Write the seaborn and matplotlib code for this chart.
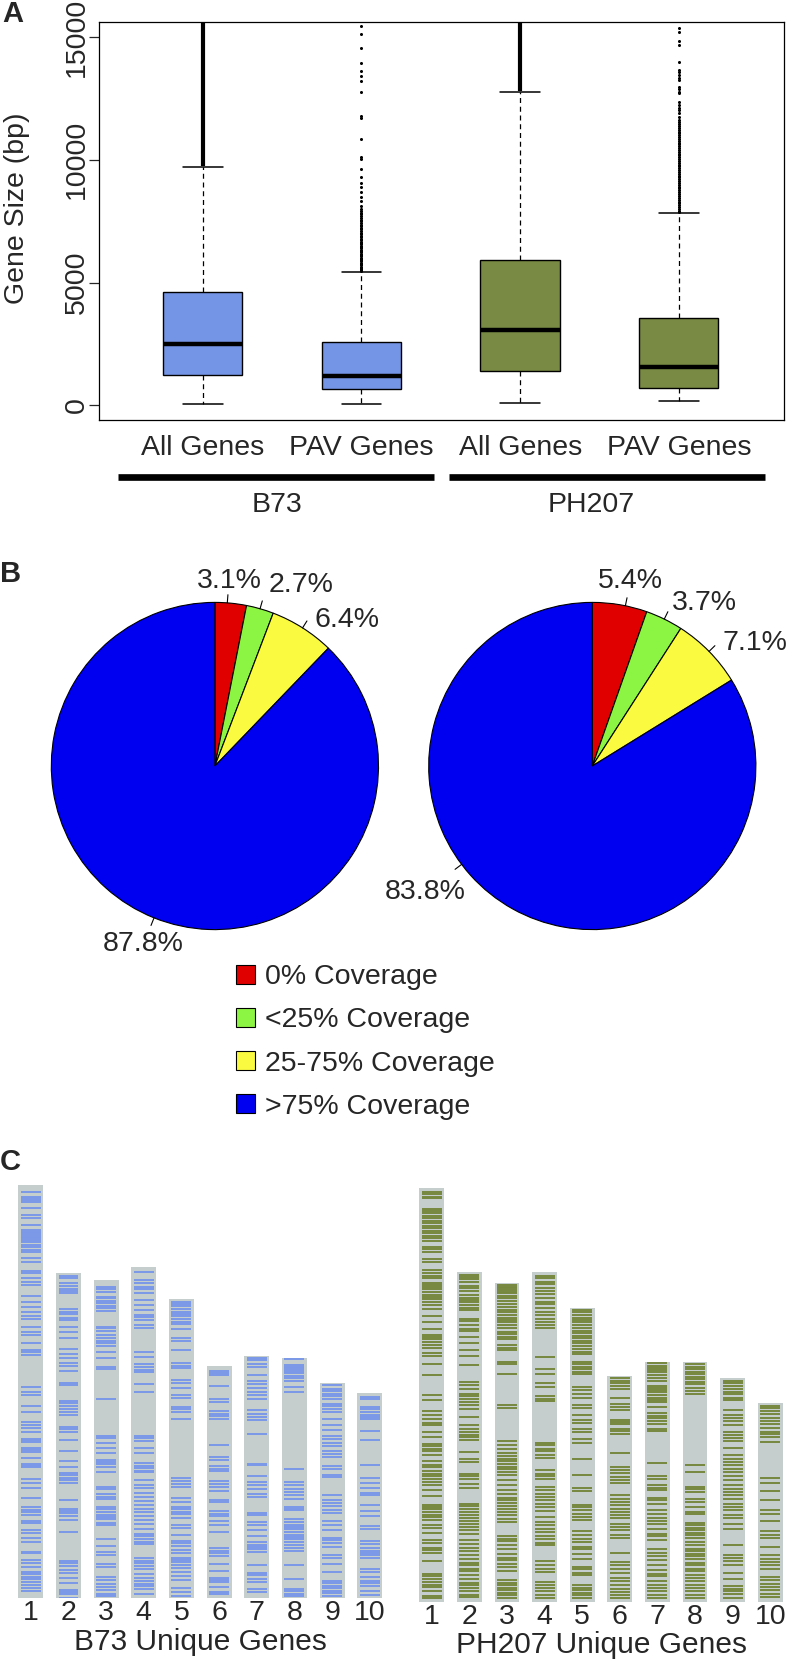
import numpy as np
import pandas as pd
import seaborn as sns
import matplotlib.pyplot as plt
from matplotlib.patches import Patch

# ---------------- data ----------------
# Panel A: gene size box statistics (bp)
box_groups = ["All Genes", "PAV Genes", "All Genes", "PAV Genes"]
box_med = [2510, 1190, 3050, 1560]
box_q1 = [1220, 650, 1380, 720]
box_q3 = [4610, 2570, 5935, 3565]
box_lo = [70, 70, 95, 165]
box_hi = [9715, 5420, 12780, 7845]
box_colors = ["#7494E6", "#7494E6", "#788A43", "#788A43"]

# outliers so dense they merge into a solid line (start, end)
dense_outliers = [(9760, 40000), None, (12820, 40000), None]

b73_pav_outliers = [15447, 15108, 14566, 13957, 13618, 13415, 13211, 12778, 11789, 11694,
                    10840, 10095, 10027, 9621, 9282, 9038, 8875, 8672, 8469, 8333, 8130,
                    7995, 7930, 7850, 7790, 7705, 7640, 7560, 7490, 7425, 7350, 7300, 7220,
                    7160, 7090, 7030, 6960, 6905, 6850, 6790, 6720, 6670, 6610, 6555, 6500,
                    6440, 6390, 6330, 6280, 6230, 6170, 6120, 6070, 6010, 5960, 5910, 5860,
                    5800, 5750, 5700, 5650, 5600, 5550, 5500, 5460]
ph207_pav_outliers = [15379, 15190, 14837, 14675, 13970, 13659, 13564, 13455, 13347, 13252,
                      12981, 12886, 12778, 12710, 12371, 12236, 12127, 12033, 11897, 11762,
                      11626, 11540, 11470, 11390, 11300, 11230, 11150, 11080, 11000, 10930,
                      10850, 10780, 10700, 10630, 10550, 10480, 10400, 10330, 10250, 10180,
                      10100, 10030, 9950, 9880, 9800, 9730, 9650, 9580, 9500, 9430, 9350,
                      9280, 9200, 9130, 9050, 8980, 8900, 8830, 8750, 8680, 8600, 8530,
                      8450, 8380, 8300, 8230, 8150, 8080, 8000, 7930, 7880]
outliers = [[], b73_pav_outliers, [], ph207_pav_outliers]

genotypes = ["B73", "PH207"]

# Panel B: coverage of unique genes (%)
coverage_labels = ["0% Coverage", "<25% Coverage", "25-75% Coverage", ">75% Coverage"]
coverage_colors = ["#E00000", "#8CF442", "#FAFA40", "#0000F0"]
b73_coverage = [3.1, 2.7, 6.4, 87.8]
ph207_coverage = [5.4, 3.7, 7.1, 83.8]

# Panel C: chromosome lengths (Mb) and unique gene positions (Mb from chromosome start)
chrom_names = ["1", "2", "3", "4", "5", "6", "7", "8", "9", "10"]
b73_len = [301.4, 237.1, 232.1, 241.5, 217.9, 169.4, 176.8, 175.4, 157.0, 149.6]
ph207_len = [301.4, 240.1, 232.1, 240.6, 213.9, 164.3, 175.0, 174.5, 162.8, 144.6]

b73_genes = [
    [5.3, 8.5, 9.7, 10.9, 12.6, 17.0, 21.9, 23.8, 29.2, 32.8, 34.0, 35.3, 36.5, 37.7, 38.9,
     40.1, 41.8, 43.8, 45.0, 47.4, 48.6, 53.5, 55.9, 62.7, 64.4, 67.6, 70.5, 72.9, 81.0,
     85.1, 88.7, 92.4, 95.3, 97.7, 103.3, 107.5, 109.4, 115.5, 120.4, 122.1, 124.0, 147.1,
     150.7, 153.2, 160.9, 165.3, 173.1, 175.1, 177.5, 179.9, 185.5, 186.3, 187.2, 191.6,
     193.3, 195.0, 199.4, 203.2, 203.9, 204.7, 205.4, 214.4, 217.6, 220.8, 228.1, 234.6,
     237.1, 238.8, 240.7, 245.1, 246.8, 251.6, 254.1, 257.2, 260.6, 267.4, 268.7, 273.5,
     276.0, 278.4, 282.0, 284.0, 285.7, 287.4, 289.3, 291.8, 294.2, 296.2],
    [1.9, 3.2, 7.3, 9.2, 11.2, 12.9, 14.8, 26.3, 28.0, 29.9, 32.4, 34.1, 38.9, 42.8, 47.0,
     55.5, 59.1, 61.6, 65.2, 67.6, 71.3, 79.8, 81.8, 93.2, 94.9, 96.8, 98.8, 101.0, 103.4,
     111.9, 113.9, 115.8, 121.7, 129.7, 137.0, 141.4, 146.0, 147.4, 149.1, 150.9, 152.8,
     165.7, 171.8, 173.5, 175.2, 177.1, 180.0, 188.8, 210.0, 211.7, 213.6, 216.1, 219.0,
     222.1, 225.8, 230.7, 232.6, 234.3, 236.8],
    [4.9, 6.6, 8.5, 12.2, 13.4, 15.3, 17.0, 18.7, 20.7, 22.6, 34.1, 35.3, 37.2, 40.1, 42.6,
     44.5, 46.2, 47.9, 52.3, 56.7, 63.3, 65.0, 86.4, 113.6, 115.1, 118.5, 122.4, 125.8,
     131.4, 132.6, 134.5, 136.3, 139.9, 150.9, 152.6, 155.7, 158.2, 159.9, 165.5, 167.2,
     169.1, 171.0, 172.7, 174.5, 176.9, 178.8, 189.1, 193.9, 198.3, 200.2, 206.8, 209.2,
     216.5, 219.0, 221.4, 223.8, 226.3, 228.7, 230.4],
    [3.2, 9.7, 11.4, 14.6, 16.3, 18.7, 24.3, 27.5, 31.6, 34.8, 36.5, 38.9, 42.1, 44.5, 62.0,
     65.7, 70.6, 73.0, 74.7, 76.6, 85.2, 90.8, 123.4, 124.8, 126.5, 132.1, 135.5, 142.8,
     144.8, 146.7, 148.4, 149.6, 155.0, 158.9, 161.3, 164.7, 167.9, 170.3, 173.5, 176.4,
     178.8, 181.3, 184.2, 187.3, 191.0, 194.6, 196.4, 198.3, 200.2, 202.0, 212.4, 214.1,
     215.8, 217.8, 220.2, 223.8, 227.0, 228.7, 231.1, 232.8, 234.8, 238.4],
    [1.5, 3.4, 5.1, 6.8, 8.8, 10.7, 12.4, 14.1, 16.1, 18.0, 21.4, 28.2, 30.2, 36.7, 46.5,
     48.2, 50.1, 58.6, 61.1, 64.2, 69.6, 71.5, 78.1, 79.8, 81.8, 87.1, 129.9, 132.4, 134.8,
     136.5, 145.0, 147.9, 151.1, 152.8, 154.7, 156.7, 159.1, 164.5, 166.9, 171.8, 176.2,
     177.9, 179.6, 182.7, 185.2, 188.3, 190.0, 191.7, 193.7, 196.1, 199.0, 201.5, 204.6,
     210.7, 213.6, 216.1],
    [3.4, 5.1, 6.8, 14.8, 23.8, 26.3, 33.1, 35.0, 36.7, 38.4, 57.9, 66.7, 68.4, 73.2, 74.9,
     76.9, 84.2, 86.1, 88.6, 91.0, 97.6, 99.3, 106.1, 108.0, 109.7, 112.9, 115.8, 121.2,
     132.8, 134.8, 136.5, 138.2, 144.5, 149.4, 154.3, 156.0, 157.7, 160.8, 164.5, 166.4],
    [1.5, 3.2, 5.6, 8.0, 13.6, 18.5, 20.2, 23.4, 26.3, 28.7, 31.6, 39.7, 42.1, 44.5, 47.0,
     56.7, 78.6, 79.3, 87.6, 92.0, 94.4, 96.8, 100.5, 102.9, 114.4, 115.8, 121.2, 123.1,
     127.3, 131.4, 135.8, 137.7, 139.4, 141.1, 143.1, 152.8, 158.2, 160.1, 163.0, 165.0,
     170.3, 172.3],
    [1.0, 5.4, 6.6, 7.8, 9.0, 10.2, 11.4, 13.1, 15.1, 17.0, 21.2, 25.3, 80.8, 90.5, 92.5,
     95.4, 97.8, 100.2, 102.7, 108.8, 110.0, 111.2, 117.3, 119.7, 121.7, 123.4, 125.1,
     127.0, 129.0, 130.7, 132.4, 134.3, 136.7, 138.7, 141.1, 150.9, 161.6, 168.9, 170.3,
     172.0, 173.7],
    [1.7, 4.1, 6.1, 8.0, 9.7, 11.4, 15.3, 17.0, 18.7, 21.2, 26.0, 30.4, 34.1, 38.9, 40.6,
     43.8, 46.2, 49.4, 51.8, 54.3, 60.8, 62.5, 66.9, 68.9, 81.5, 85.2, 87.6, 90.0, 92.5,
     94.9, 100.5, 103.4, 107.1, 112.7, 114.4, 116.8, 119.9, 125.3, 127.3, 132.1, 138.0,
     144.3, 146.0, 147.7, 149.6, 151.6, 153.3, 155.0],
    [2.9, 3.9, 10.2, 11.9, 13.6, 15.6, 17.5, 19.2, 27.7, 33.8, 52.1, 61.8, 65.5, 69.1, 72.7,
     74.5, 81.8, 85.6, 89.8, 97.1, 98.8, 107.5, 110.0, 112.9, 114.8, 116.5, 118.2, 120.2,
     128.0, 130.4, 134.3, 136.7, 138.4, 140.9, 144.0, 147.0],
]

ph207_genes = [
    [2.4, 4.4, 6.1, 7.3, 15.1, 16.5, 18.2, 20.0, 21.9, 23.8, 25.5, 27.3, 29.2, 31.1, 32.8,
     34.5, 36.5, 38.4, 42.6, 44.3, 46.2, 51.6, 53.5, 59.6, 62.0, 63.7, 65.7, 69.3, 70.6,
     71.8, 73.5, 75.4, 77.4, 79.1, 80.8, 82.7, 85.2, 88.1, 92.9, 97.3, 102.2, 106.6, 108.3,
     110.0, 111.9, 114.4, 116.3, 120.4, 122.1, 127.7, 135.8, 150.4, 154.5, 162.5, 165.0,
     168.4, 170.8, 172.7, 177.6, 181.3, 186.1, 187.8, 189.8, 191.7, 194.2, 199.0, 201.5,
     203.2, 206.3, 208.0, 209.7, 211.7, 214.1, 216.1, 220.2, 224.3, 230.7, 232.4, 234.1,
     236.0, 238.0, 239.7, 242.1, 245.3, 247.7, 251.1, 256.7, 258.4, 262.3, 264.0, 265.7,
     272.0, 281.0, 282.7, 284.7, 287.1, 289.1, 290.8, 293.9, 296.9, 298.8],
    [1.5, 3.2, 4.9, 6.8, 9.7, 11.7, 13.6, 16.5, 18.5, 20.2, 21.9, 23.8, 25.8, 27.5, 33.6,
     35.5, 38.0, 40.9, 42.8, 47.0, 51.8, 56.7, 60.8, 67.2, 79.8, 81.8, 84.7, 88.3, 90.0,
     92.0, 94.4, 96.4, 99.8, 105.4, 111.4, 113.9, 116.3, 118.2, 120.0, 122.4, 130.9, 136.3,
     138.2, 146.7, 148.4, 150.4, 154.0, 157.2, 168.6, 170.3, 172.3, 174.7, 176.6, 179.1,
     181.5, 183.2, 185.6, 188.1, 190.5, 195.4, 197.8, 201.0, 203.4, 205.8, 208.8, 211.7,
     213.6, 216.1, 218.0, 220.4, 223.4, 226.3, 228.2, 230.2, 232.6, 235.0, 237.0],
    [1.2, 2.4, 3.6, 4.9, 6.1, 7.3, 9.0, 10.9, 12.9, 15.3, 17.0, 19.5, 21.2, 23.1, 25.1,
     26.8, 28.0, 30.4, 32.8, 35.3, 37.2, 38.9, 40.6, 45.0, 47.0, 48.7, 57.2, 59.1, 65.7,
     88.3, 91.2, 115.1, 118.0, 120.9, 123.4, 125.8, 127.7, 129.7, 131.4, 133.8, 135.5,
     137.5, 139.9, 143.6, 146.7, 150.9, 153.3, 156.4, 158.2, 159.9, 162.3, 164.2, 166.7,
     168.6, 172.0, 174.0, 184.2, 186.1, 188.1, 190.5, 193.4, 197.1, 200.2, 201.9, 204.4,
     206.8, 210.0, 216.5, 218.2, 220.2, 222.1, 223.8, 225.5, 227.5, 229.4],
    [2.9, 4.9, 7.3, 9.2, 11.7, 14.1, 16.5, 19.0, 22.4, 23.8, 26.3, 29.2, 31.6, 34.5, 36.5,
     38.9, 40.9, 62.0, 70.6, 74.2, 80.8, 83.9, 90.5, 92.5, 94.4, 124.6, 126.5, 129.0,
     130.9, 133.3, 135.8, 144.8, 147.2, 148.9, 150.9, 156.9, 159.4, 161.8, 164.2, 166.7,
     169.1, 171.5, 174.7, 178.8, 182.5, 184.9, 187.3, 189.8, 192.7, 195.1, 197.6, 199.5,
     211.2, 213.6, 216.5, 219.0, 226.3, 228.2, 230.7, 233.1, 236.0, 238.0],
    [1.2, 2.9, 4.9, 6.8, 8.5, 10.2, 12.2, 14.6, 16.5, 18.2, 20.0, 21.9, 23.8, 25.5, 27.3,
     29.7, 31.6, 33.6, 38.9, 40.9, 42.6, 44.3, 46.2, 48.2, 57.2, 59.6, 62.8, 65.2, 70.1,
     73.0, 77.4, 81.5, 83.9, 87.6, 90.0, 95.4, 98.5, 109.5, 121.7, 130.9, 133.3, 143.1,
     144.8, 147.2, 149.6, 152.1, 154.5, 162.5, 165.5, 167.9, 170.3, 174.0, 175.7, 178.8,
     182.5, 188.6, 190.3, 192.7, 194.6, 201.5, 203.9, 205.6, 207.3, 209.2, 211.2],
    [1.5, 3.4, 5.1, 6.8, 9.2, 16.1, 20.4, 22.1, 24.6, 31.9, 33.6, 35.0, 38.0, 39.9, 42.3,
     56.2, 65.9, 68.4, 70.8, 73.2, 75.7, 78.1, 86.6, 89.1, 91.5, 93.9, 96.4, 98.8, 101.2,
     103.6, 107.3, 109.7, 112.2, 115.8, 118.2, 128.5, 135.3, 137.7, 140.6, 143.1, 147.0,
     149.4, 151.8, 154.7, 157.2, 159.6, 161.6],
    [1.2, 2.9, 4.4, 6.1, 7.8, 9.7, 12.2, 14.1, 17.5, 19.0, 20.7, 22.4, 24.3, 26.3, 28.0,
     29.7, 32.8, 37.7, 39.4, 41.4, 43.3, 45.7, 48.7, 50.6, 73.5, 83.2, 85.6, 90.0, 92.0,
     93.7, 99.3, 101.0, 104.1, 108.3, 110.7, 113.9, 116.3, 118.7, 121.7, 125.3, 127.0,
     130.2, 136.3, 139.2, 141.6, 144.8, 147.9, 152.1, 154.5, 156.2, 160.1, 162.5, 165.0,
     167.4, 169.8, 172.3],
    [1.5, 3.2, 4.9, 6.8, 8.8, 10.5, 12.2, 14.1, 16.1, 18.5, 20.9, 23.4, 74.9, 79.8, 90.8,
     92.5, 94.4, 99.3, 101.7, 105.4, 109.0, 110.9, 116.8, 118.7, 120.7, 122.4, 124.1,
     126.0, 128.0, 130.9, 133.3, 135.8, 137.7, 139.4, 141.1, 143.1, 146.0, 147.9, 150.4,
     152.3, 154.7, 157.2, 159.6, 162.0, 164.5, 166.9, 169.3, 171.8],
    [1.9, 3.6, 5.4, 7.8, 9.7, 11.7, 14.1, 15.8, 23.1, 26.3, 28.7, 31.1, 33.6, 38.9, 40.9,
     43.3, 45.7, 50.6, 56.0, 58.4, 60.8, 63.3, 65.7, 68.1, 71.0, 74.2, 77.4, 80.3, 82.7,
     85.2, 88.1, 91.2, 93.7, 96.1, 99.3, 101.7, 105.8, 109.5, 121.7, 128.5, 130.9, 133.3,
     136.3, 141.6, 146.0, 151.3, 153.3, 155.2, 156.9, 160.1],
    [1.7, 3.6, 5.6, 8.0, 10.5, 12.9, 15.3, 18.2, 20.7, 22.6, 24.3, 28.5, 54.7, 58.4, 64.0,
     70.6, 77.9, 81.0, 85.9, 93.2, 95.6, 98.1, 104.6, 110.7, 113.1, 115.6, 118.0, 120.9,
     126.5, 128.9, 131.4, 133.8, 136.3, 138.7, 141.1],
]

# ---------------- style ----------------
sns.set_style("white")
plt.rcParams['font.family'] = ['Liberation Sans', 'DejaVu Sans']
plt.rcParams['axes.linewidth'] = 0.9

W, H = 789, 1671
fig = plt.figure(figsize=(W / 100, H / 100), dpi=100)


def fbox(x0, y0, x1, y1):
    # pixel box (top-left origin) -> figure fraction rect
    return [x0 / W, 1 - y1 / H, (x1 - x0) / W, (y1 - y0) / H]


# ---------------- panel A ----------------
axA = fig.add_axes(fbox(98.6, 22.3, 783.5, 420))
stats = []
for i in range(4):
    stats.append(dict(med=box_med[i], q1=box_q1[i], q3=box_q3[i],
                      whislo=box_lo[i], whishi=box_hi[i], fliers=outliers[i]))
pos = [1, 2, 3, 4]
bp = axA.bxp(stats, positions=pos, widths=0.5, capwidths=0.25, patch_artist=True,
             manage_ticks=False,
             boxprops=dict(edgecolor="black", linewidth=1.0),
             medianprops=dict(color="black", linewidth=3.2, solid_capstyle="butt"),
             whiskerprops=dict(color="black", linewidth=0.9, linestyle=(0, (4, 3))),
             capprops=dict(color="black", linewidth=1.1),
             flierprops=dict(marker="o", markersize=2.2, markerfacecolor="black",
                             markeredgecolor="none"))
for patch, c in zip(bp["boxes"], box_colors):
    patch.set_facecolor(c)
for p, d in zip(pos, dense_outliers):
    if d is not None:
        axA.vlines(p, d[0], d[1], color="black", linewidth=3.0, zorder=3)

axA.set_xlim(0.343, 4.66)
axA.set_ylim(-600, 15600)
axA.set_yticks([0, 5000, 10000, 15000])
axA.set_yticklabels(["0", "5000", "10000", "15000"], rotation=90, va="center")
axA.tick_params(axis="y", length=7.5, width=0.9, pad=-1, labelsize=20.5, left=True)
axA.set_xticks(pos)
axA.set_xticklabels(box_groups)
axA.tick_params(axis="x", length=0, pad=11, labelsize=20.5)
axA.set_ylabel("Gene Size (bp)", fontsize=20.5)
axA.yaxis.set_label_coords(-0.100, 0.533)
for s in axA.spines.values():
    s.set_color("black")

# genotype bars under tick labels
trans = axA.get_xaxis_transform()
for (x0, x1), xc, g in zip([(0.466, 2.455), (2.55, 4.543)], [1.47, 3.45], genotypes):
    axA.plot([x0, x1], [-0.1433, -0.1433], color="black", linewidth=4.8,
             transform=trans, clip_on=False, solid_capstyle="butt")
    axA.text(xc, -0.2137, g, transform=trans, ha="center", va="center", fontsize=20.5)

fig.text(0.003, 1.0, "A", fontsize=21, fontweight="bold", va="top", ha="left")

# ---------------- panel B ----------------
R = 163.6
pie_centers = [(214.9, 766), (592.3, 766)]
# label layout (in pie radius units): x, y, horizontal alignment
label_layout = [
    [(0.086, 1.131, "center"), (0.331, 1.106, "left"), (0.609, 0.895, "left"),
     (-0.436, -1.088, "center")],
    [(0.2335, 1.131, "center"), (0.486, 0.996, "left"), (0.793, 0.754, "left"),
     (-1.0226, -0.770, "center")],
]
for (cx, cy), vals, layout in zip(pie_centers, [b73_coverage, ph207_coverage], label_layout):
    ax = fig.add_axes(fbox(cx - 1.3 * R, cy - 1.3 * R, cx + 1.3 * R, cy + 1.3 * R))
    wedges, _ = ax.pie(vals, colors=coverage_colors, startangle=90, counterclock=False,
                       wedgeprops=dict(edgecolor="black", linewidth=0.8))
    ax.set_xlim(-1.3, 1.3)
    ax.set_ylim(-1.3, 1.3)
    ax.set_aspect("auto")
    ax.axis("off")
    for w, v, (lx, ly, ha) in zip(wedges, vals, layout):
        if ha == "center":
            ang = np.arctan2(ly, lx)
        else:
            ang = np.deg2rad((w.theta1 + w.theta2) / 2)
        ax.plot([np.cos(ang), 1.05 * np.cos(ang)], [np.sin(ang), 1.05 * np.sin(ang)],
                color="black", linewidth=0.8, clip_on=False)
        ax.text(lx, ly, f"{v}%", ha=ha, va="center", fontsize=20.5, clip_on=False)

handles = [Patch(facecolor=c, edgecolor="black", linewidth=0.8) for c in coverage_colors]
fig.legend(handles, coverage_labels, loc="upper left", bbox_to_anchor=(235.5 / W, 1 - 964.4 / H),
           frameon=False, fontsize=20.5, handlelength=0.67, handleheight=0.67,
           handletextpad=0.36, labelspacing=0.6, borderpad=0, borderaxespad=0)

fig.text(0.0, 1 - 560.5 / H, "B", fontsize=21, fontweight="bold", va="top", ha="left")

# ---------------- panel C ----------------
gray = "#C6CDCD"
panelC = [
    (fbox(12.0, 1598.3 - 310 * 1.3713, 388.6, 1598.3), b73_len, b73_genes, "#7A98E8",
     "B73 Unique Genes"),
    (fbox(413.0, 1601.7 - 310 * 1.3713, 789.0, 1601.7), ph207_len, ph207_genes, "#76883E",
     "PH207 Unique Genes"),
]
for rect, lens, genes, col, title in panelC:
    ax = fig.add_axes(rect)
    df = pd.DataFrame({"chrom": chrom_names, "length": lens})
    sns.barplot(data=df, x="chrom", y="length", color=gray, saturation=1, width=0.663,
                edgecolor="none", ax=ax)
    for i, (L, g) in enumerate(zip(lens, genes)):
        y = L - np.array(g)
        ax.hlines(y, i - 0.265, i + 0.265, color=col, linewidth=1.4)
    ax.set_xlim(-0.5, 9.5)
    ax.set_ylim(0, 310)
    sns.despine(ax=ax, left=True, bottom=True)
    ax.set_yticks([])
    ax.set_ylabel("")
    ax.tick_params(axis="x", length=0, pad=1.5, labelsize=20.5)
    ax.set_xlabel(title, fontsize=21.5, labelpad=1)

fig.text(0.0, 1 - 1148.5 / H, "C", fontsize=21, fontweight="bold", va="top", ha="left")

fig.savefig("out.png", dpi=100)
